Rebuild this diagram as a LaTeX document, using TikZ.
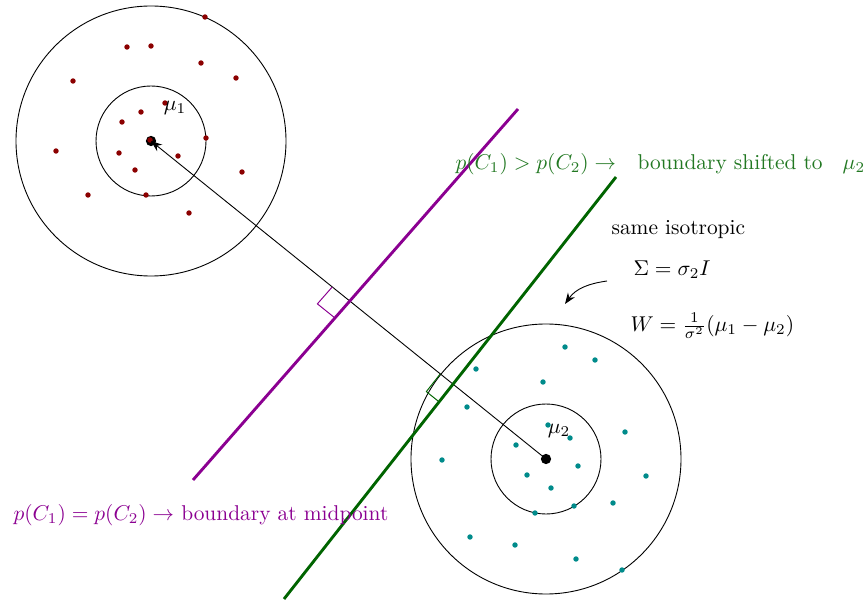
\documentclass[tikz,border=0pt]{standalone}
\usepackage{amsmath}
\usepackage{amssymb}
\usepackage{xcolor}
\usetikzlibrary{arrows.meta, calc}

\definecolor{classone}{RGB}{139,0,0}
\definecolor{classtwo}{RGB}{0,139,139}
\definecolor{midline}{RGB}{139,0,145}
\definecolor{shiftline}{RGB}{0,100,0}
\definecolor{shifttext}{RGB}{34,120,34}

\tikzset{
  boundary/.style={line width=1.35pt},
  rightmark/.style={line width=0.45pt},
  sample/.style={radius=1.27pt},
}

\begin{document}
\begin{tikzpicture}[x=0.01642cm, y=-0.01642cm, line width=0.42pt]
\useasboundingbox (0,0) rectangle (868,600);

% class means
\coordinate (mu1) at (151,141);
\coordinate (mu2) at (546,459);

% isotropic contours
\draw (mu1) circle (135);
\draw (mu1) circle (55);
\draw (mu2) circle (135);
\draw (mu2) circle (55);

% samples of C1
\foreach \x/\y in {205/17, 127/47, 151/46, 73/81, 201/63, 236/78, 165/103,
  141/112, 122/122, 206/138, 56/151, 119/153, 178/156, 242/172, 135/170,
  88/195, 146/195, 189/213}
  \fill[classone] (\x,\y) circle[sample];

% samples of C2
\foreach \x/\y in {565/347, 595/360, 476/369, 543/382, 467/407, 548/425,
  570/438, 516/445, 625/432, 442/460, 578/466, 527/475, 551/488, 646/476,
  613/503, 574/506, 535/513, 470/537, 515/545, 576/559, 622/570}
  \fill[classtwo] (\x,\y) circle[sample];

% means and direction
\fill (mu1) circle[radius=2.4pt];
\fill (mu2) circle[radius=2.4pt];
\fill[classone] (150,140) circle[sample];
\draw[-{Stealth[length=5.2pt]}] (mu2) -- (mu1);
\node (lmu1) at (175,108) {$\mu_1$};
\node (lmu2) at (559,431) {$\mu_2$};

% decision boundaries
\coordinate (b1s) at (193,480);
\coordinate (b1e) at (518,109);
\coordinate (b2s) at (284,599);
\coordinate (b2e) at (616,177);
\draw[midline, boundary] (b1s) -- (b1e);
\draw[shiftline, boundary] (b2s) -- (b2e);

% right angle marks
\coordinate (p1) at (intersection of mu1--mu2 and b1s--b1e);
\coordinate (p2) at (intersection of mu1--mu2 and b2s--b2e);
\coordinate (a1) at ($(p1)!0.37cm!(mu1)$);
\coordinate (c1) at ($(p1)!0.37cm!(b1s)$);
\coordinate (a2) at ($(p2)!0.27cm!(mu1)$);
\coordinate (c2) at ($(p2)!0.37cm!(b2s)$);
\draw[midline, rightmark] (a1) -- ($(a1)+(c1)-(p1)$) -- (c1);
\draw[shiftline, rightmark] (a2) -- ($(a2)+(c2)-(p2)$) -- (c2);

% labels
\node[anchor=west, text=shifttext] (shiftlbl) at (448,164)
  {$p(C_1) > p(C_2) \rightarrow$\quad boundary shifted to\hspace{0.6em} $\mu_2$};
\node[anchor=west, text=midline] (midlbl) at (6,515)
  {$p(C_1) = p(C_2) \rightarrow$ boundary at midpoint};
\node[anchor=west] (isolbl) at (604,230) {same isotropic};
\node[anchor=west] (siglbl) at (626,270) {$\Sigma = \sigma_2 I$};
\node[anchor=west] (wlbl) at (623,326) {$W = \frac{1}{\sigma^2}(\mu_1 - \mu_2)$};

% pointer to the covariance
\coordinate (ptrstart) at (607,281);
\coordinate (ptrend) at (565,304);
\draw[-{Stealth[length=5.2pt]}] (ptrstart) to[out=188, in=55] (ptrend);
\end{tikzpicture}
\end{document}
